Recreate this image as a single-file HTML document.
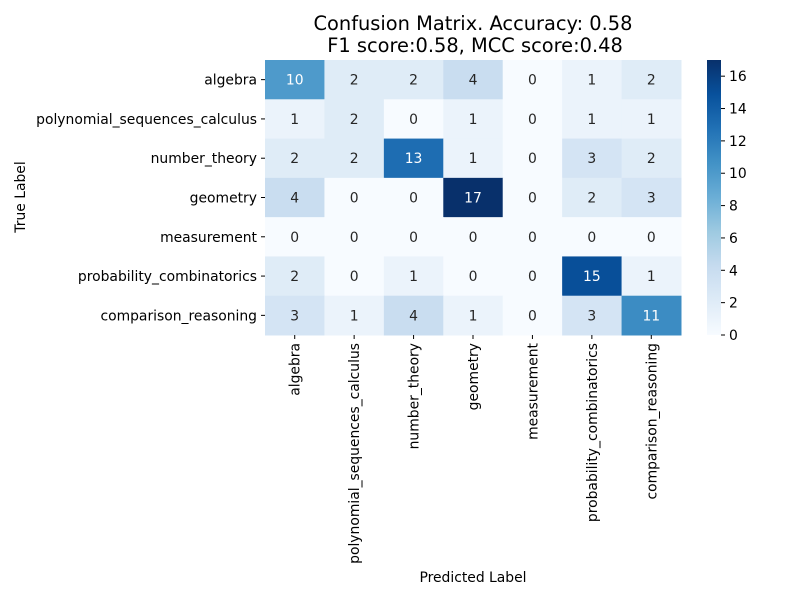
<!DOCTYPE html>
<html><head><meta charset="utf-8"><style>
body{margin:0;background:#fff;}
svg{font-family:"DejaVu Sans","Liberation Sans",sans-serif;}
</style></head><body>
<svg id="chart" width="800" height="600" viewBox="0 0 800 600">
<text x="473" y="30" font-size="19.4" text-anchor="middle">Confusion Matrix. Accuracy: 0.58</text>
<text x="475" y="52" font-size="19.4" text-anchor="middle">F1 score:0.58, MCC score:0.48</text>
<g id="cells"></g>
<g id="ylabels"></g>
<g id="xlabels"></g>
<g id="cbar"></g>
<text x="473" y="582" font-size="13.9" text-anchor="middle">Predicted Label</text>
<text transform="translate(25,197) rotate(-90)" font-size="13.9" text-anchor="middle">True Label</text>
</svg>
<script>
const categories=["algebra","polynomial_sequences_calculus","number_theory","geometry","measurement","probability_combinatorics","comparison_reasoning"];
const matrix=[
[10,2,2,4,0,1,2],
[1,2,0,1,0,1,1],
[2,2,13,1,0,3,2],
[4,0,0,17,0,2,3],
[0,0,0,0,0,0,0],
[2,0,1,0,0,15,1],
[3,1,4,1,0,3,11]];
const cbarTicks=[0,2,4,6,8,10,12,14,16];
const vmin=0,vmax=17;
const L=265,R=681,T=60,B=335;
const FS=13.9;
const NS="http://www.w3.org/2000/svg";
const stops=["#f7fbff","#deebf7","#c6dbef","#9ecae1","#6baed6","#4292c6","#2171b5","#08519c","#08306b"].map(h=>[1,3,5].map(i=>parseInt(h.substr(i,2),16)));
function cmap(v){let t=(v-vmin)/(vmax-vmin)*(stops.length-1);let i=Math.min(Math.floor(t),stops.length-2);let f=t-i;return stops[i].map((c,k)=>Math.round(c+(stops[i+1][k]-c)*f));}
function relLum(col){const l=col.map(c=>{c/=255;return c<=0.03928?c/12.92:Math.pow((c+0.055)/1.055,2.4);});return 0.2126*l[0]+0.7152*l[1]+0.0722*l[2];}
const n=categories.length,cw=(R-L)/n,ch=(B-T)/n;
const xs=i=>L+i*cw, ys=i=>T+i*ch;
function mk(tag,attrs,parent){const e=document.createElementNS(NS,tag);for(const k in attrs)e.setAttribute(k,attrs[k]);parent.appendChild(e);return e;}
const cells=document.getElementById('cells');
matrix.forEach((row,r)=>row.forEach((v,c)=>{
 const col=cmap(v);
 const rect=mk('rect',{x:xs(c),y:ys(r),width:cw+0.5,height:ch+0.5,fill:`rgb(${col})`},cells);
 
 
 const t=mk('text',{x:xs(c)+cw/2,y:ys(r)+ch/2+5,'font-size':FS,'text-anchor':'middle',fill:relLum(col)<0.408?'#fff':'#262626'},cells);
 t.textContent=v;
 
 
}));
const yl=document.getElementById('ylabels'),xl=document.getElementById('xlabels');
categories.forEach((c,i)=>{
 mk('line',{x1:L-4,x2:L,y1:ys(i)+ch/2,y2:ys(i)+ch/2,stroke:'#000'},yl);
 const t=mk('text',{x:L-8,y:ys(i)+ch/2+5,'font-size':FS,'text-anchor':'end'},yl);
 t.textContent=c;
 
 
 mk('line',{x1:xs(i)+cw/2,x2:xs(i)+cw/2,y1:B,y2:B+4,stroke:'#000'},xl);
 const u=mk('text',{transform:`translate(${xs(i)+cw/2+5},${B+8}) rotate(-90)`,'font-size':FS,'text-anchor':'end'},xl);
 u.textContent=c;
 
 
});
const cb=document.getElementById('cbar');
const defs=mk('defs',{},cb);
const g=mk('linearGradient',{id:'cg',x1:0,y1:1,x2:0,y2:0},defs);
stops.forEach((s,i)=>mk('stop',{offset:i/(stops.length-1),'stop-color':`rgb(${s})`},g));
const CX=707,CW=14;
const cy=v=>B-(v-vmin)/(vmax-vmin)*(B-T);
const bar=mk('rect',{x:CX,y:T,width:CW,height:B-T,fill:'url(#cg)'},cb);


cbarTicks.forEach(v=>{
 mk('line',{x1:CX+CW,x2:CX+CW+4,y1:cy(v),y2:cy(v),stroke:'#000'},cb);
 const t=mk('text',{x:CX+CW+8,y:cy(v)+5,'font-size':FS},cb);
 t.textContent=v;
 
 
});
</script>
</body></html>
